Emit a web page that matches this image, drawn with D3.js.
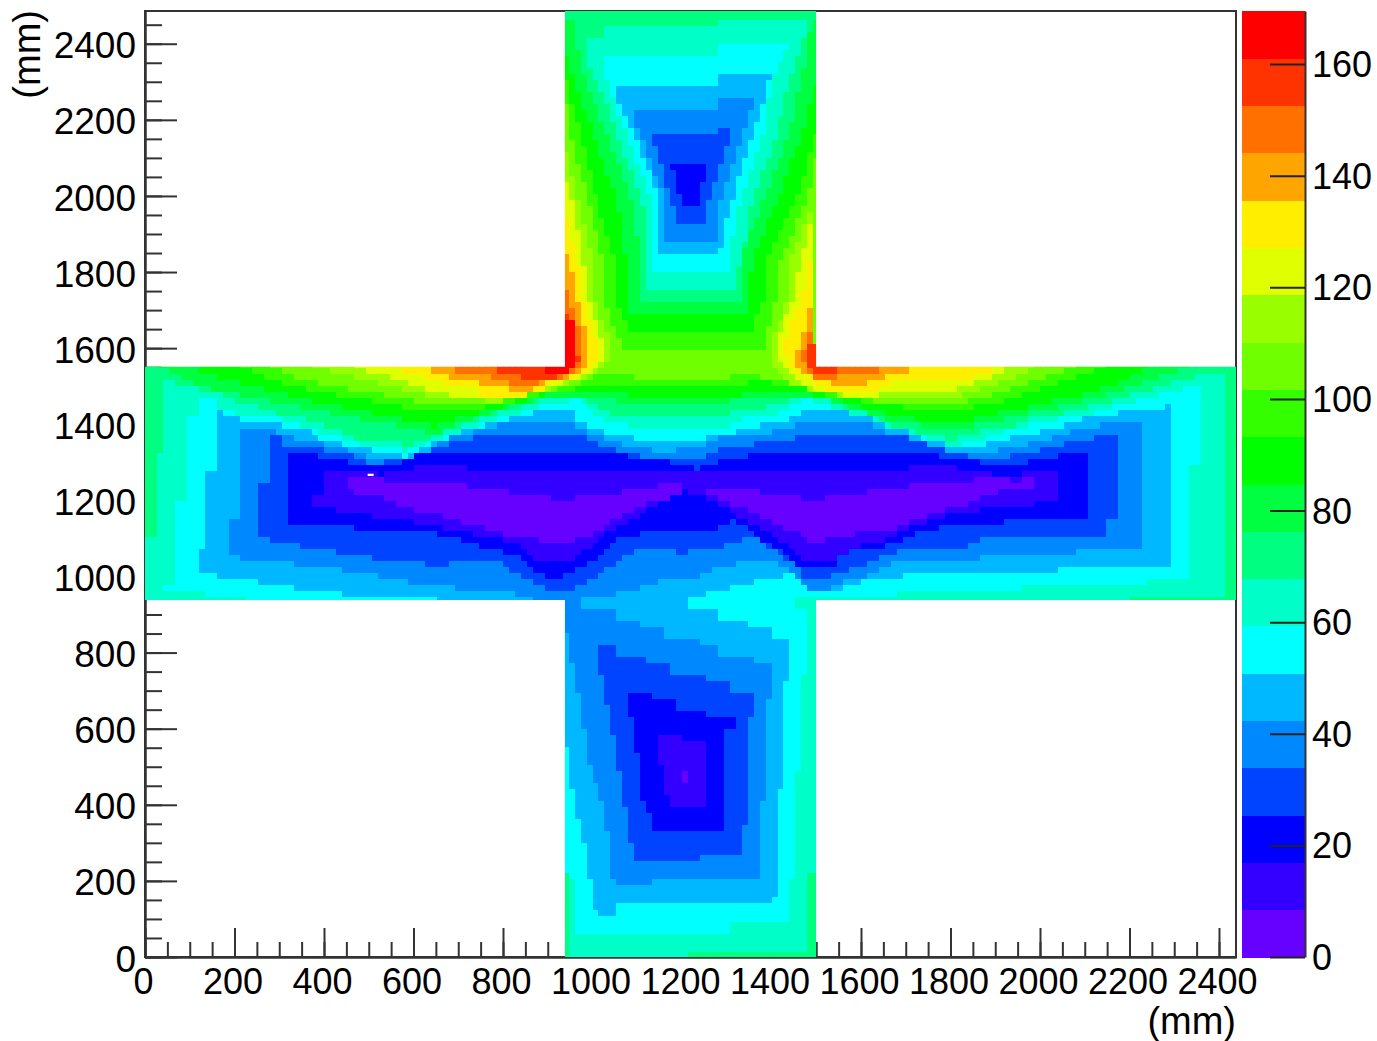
<!DOCTYPE html>
<meta charset="utf-8">
<title>Cross map</title>
<script src="https://d3js.org/d3.v7.min.js"></script>
<style>
  body { margin: 0; background: #fff; }
  text { font-family: "Liberation Sans", Arial, sans-serif; fill: #000; }
</style>
<div id="my_dataviz"></div>
<script>
  // colour levels, bottom to top of the palette
  const levelColors = ["#6600ff", "#3300ff", "#0000ff", "#0044ff", "#0088ff", "#00b8ff", "#00ffff", "#00ffc8",
    "#00ff80", "#00ff40", "#00ff00", "#33ff00", "#70ff00", "#99ff00", "#e0ff00", "#ffee00",
    "#ffa500", "#ff7000", "#ff3300", "#ff0000"];
  const zMax = 169.5;
  const zTicks = [0, 20, 40, 60, 80, 100, 120, 140, 160];
  const xTicks = d3.range(0, 2401, 200);
  const yTicks = d3.range(0, 2401, 200);
  const crossArmX = [943, 1507];
  const crossArmY = [938, 1551];
  const baseLevel = 12;
  const noDataCells = [[500, 1270]];

  // regions (mm): value >= level around the two inner corners
  const cornerRegions = [
    [13, [[943,2121],[972,1990],[1006,1832],[1011,1727],[1044,1622],[1040,1569],[1029,1543],[943,1503],[921,1495],[865,1469],[797,1459],[651,1469],[377,1551],[377,1569],[943,1569]]],
    [13, [[1507,2003],[1448,1832],[1442,1727],[1408,1622],[1404,1569],[1415,1543],[1444,1511],[1482,1482],[1520,1469],[1606,1459],[1707,1469],[1808,1469],[1920,1509],[2003,1551],[2003,1569],[1507,1569]]],
    [14, [[943,2042],[959,1990],[984,1832],[995,1727],[1029,1622],[1029,1569],[1015,1543],[943,1509],[921,1503],[865,1474],[797,1469],[730,1464],[651,1485],[472,1551],[472,1569],[943,1569]]],
    [14, [[1507,1976],[1471,1832],[1455,1727],[1419,1622],[1419,1569],[1437,1548],[1464,1522],[1498,1490],[1527,1482],[1606,1472],[1707,1485],[1808,1485],[1886,1517],[1920,1535],[1931,1551],[1931,1569],[1507,1569]]],
    [15, [[943,1950],[970,1832],[984,1727],[1015,1622],[1015,1569],[999,1543],[943,1514],[921,1511],[887,1490],[865,1477],[752,1477],[752,1498],[680,1498],[651,1517],[543,1551],[543,1569],[943,1569]]],
    [15, [[1507,1911],[1493,1832],[1475,1727],[1437,1622],[1442,1569],[1455,1548],[1478,1530],[1505,1503],[1554,1485],[1651,1485],[1651,1498],[1680,1498],[1680,1517],[1859,1517],[1859,1535],[1904,1535],[1904,1569],[1507,1569]]],
    [16, [[943,1858],[954,1832],[970,1727],[995,1622],[995,1569],[984,1543],[943,1519],[921,1517],[887,1501],[865,1490],[824,1485],[802,1501],[752,1501],[752,1517],[680,1517],[680,1535],[640,1535],[636,1569],[943,1569]]],
    [16, [[1507,1793],[1498,1727],[1475,1622],[1455,1569],[1475,1538],[1500,1522],[1554,1503],[1621,1503],[1621,1517],[1666,1517],[1666,1535],[1718,1535],[1718,1569],[1507,1569]]],
    [17, [[943,1753],[954,1727],[981,1622],[984,1569],[970,1543],[943,1524],[898,1519],[871,1503],[824,1503],[824,1517],[775,1517],[775,1535],[703,1535],[703,1569],[943,1569]]],
    [17, [[1507,1714],[1489,1622],[1475,1569],[1489,1538],[1509,1517],[1554,1517],[1554,1535],[1646,1535],[1646,1569],[1507,1569]]],
    [18, [[943,1700],[966,1648],[972,1569],[959,1543],[943,1530],[921,1522],[847,1519],[847,1535],[797,1535],[797,1569],[943,1569]]],
    [18, [[1489,1608],[1489,1548],[1507,1535],[1550,1535],[1550,1569],[1507,1608]]],
    [19, [[943,1682],[959,1682],[959,1643],[968,1643],[968,1551],[950,1538],[894,1538],[894,1569],[943,1569]]]
  ];

  // value <= level, upper arm
  const upperArm = [
    [11, [[932,2520],[932,2279],[943,2252],[954,2166],[995,1990],[1029,1832],[1029,1727],[1067,1622],[1067,1595],[1390,1595],[1390,1622],[1415,1727],[1426,1832],[1489,1990],[1507,2095],[1516,2121],[1516,2520]]],
    [10, [[932,2520],[932,2331],[943,2318],[977,2166],[1015,1990],[1055,1832],[1055,1727],[1082,1674],[1082,1643],[1365,1643],[1365,1674],[1388,1727],[1392,1832],[1464,1990],[1507,2166],[1516,2200],[1516,2520]]],
    [9, [[932,2520],[932,2397],[943,2371],[977,2252],[1006,2166],[1060,1990],[1082,1832],[1082,1727],[1096,1687],[1352,1687],[1363,1832],[1419,1990],[1478,2166],[1507,2292],[1516,2305],[1516,2520]]],
    [8, [[932,2520],[932,2468],[959,2463],[984,2318],[1038,2166],[1094,1990],[1112,1832],[1112,1719],[1343,1719],[1336,1832],[1388,1990],[1448,2166],[1484,2358],[1498,2463],[1516,2463],[1516,2520]]],
    [7, [[1029,2442],[1029,2415],[984,2415],[999,2331],[1029,2271],[1060,2166],[1118,1990],[1123,1884],[1127,1761],[1320,1761],[1347,1884],[1363,1990],[1419,2166],[1448,2305],[1475,2394],[1489,2463],[1291,2463],[1291,2442]]],
    [6, [[1029,2368],[1033,2323],[1082,2166],[1139,1990],[1139,1808],[1307,1808],[1318,1884],[1336,1990],[1388,2166],[1410,2323],[1448,2394],[1291,2394],[1291,2368]]],
    [5, [[1053,2297],[1067,2231],[1098,2166],[1157,1990],[1154,1853],[1291,1853],[1303,1924],[1318,1990],[1363,2166],[1388,2252],[1406,2321],[1291,2321],[1291,2297]]],
    [4, [[1094,2226],[1112,2166],[1168,1990],[1166,1877],[1280,1877],[1291,1990],[1341,2166],[1365,2252],[1280,2252],[1280,2226]]],
    [3, [[1139,2158],[1183,1990],[1195,1921],[1253,1921],[1264,1990],[1320,2179],[1280,2179],[1280,2158]]],
    [2, [[1179,2087],[1264,2087],[1253,2042],[1240,1971],[1206,1971],[1195,2042]]]
  ];

  // value <= level, horizontal arm (levels 8 to 4 also run into the lower arm)
  const middleArm = [
    [11, [[281,1569],[281,1551],[348,1517],[651,1451],[797,1459],[910,1490],[948,1498],[977,1509],[1022,1535],[1096,1535],[1096,1517],[1318,1517],[1318,1532],[1381,1532],[1381,1517],[1437,1522],[1460,1503],[1482,1495],[1505,1485],[1550,1477],[1651,1459],[1808,1446],[1920,1485],[2095,1551],[2095,1569],[2600,1569],[2600,886],[-100,886],[-100,1569]]],
    [10, [[209,1569],[209,1551],[348,1495],[651,1430],[797,1451],[910,1485],[948,1490],[984,1495],[1015,1509],[1089,1498],[1318,1498],[1381,1517],[1437,1503],[1478,1495],[1509,1482],[1561,1472],[1662,1451],[1808,1430],[1920,1459],[2160,1551],[2160,1569],[2600,1569],[2600,886],[-100,886],[-100,1569]]],
    [9, [[117,1569],[117,1551],[124,1538],[348,1469],[651,1398],[797,1443],[910,1480],[954,1485],[1022,1485],[1127,1472],[1336,1472],[1336,1485],[1437,1490],[1464,1485],[1500,1477],[1554,1464],[1651,1432],[1808,1398],[1920,1430],[2145,1490],[2257,1551],[2257,1569],[2600,1569],[2600,886],[-100,886],[-100,1569]]],
    [8, [[22,1569],[22,1551],[67,1535],[124,1498],[348,1446],[651,1377],[797,1438],[910,1474],[954,1477],[1022,1469],[1082,1456],[1318,1451],[1318,1469],[1426,1469],[1464,1477],[1500,1469],[1554,1456],[1651,1417],[1808,1385],[1920,1411],[2145,1472],[2351,1551],[2351,1569],[2600,1569],[2600,886],[1516,886],[1516,-10],[932,-10],[932,886],[-100,886],[-100,1569]]],
    [7, [[-11,1104],[22,1104],[22,1333],[45,1333],[45,1517],[67,1517],[67,1503],[117,1498],[117,1485],[164,1485],[186,1469],[236,1451],[281,1438],[303,1425],[355,1417],[400,1398],[445,1380],[472,1367],[543,1359],[588,1346],[611,1359],[636,1364],[658,1377],[703,1393],[730,1406],[779,1425],[824,1438],[871,1456],[916,1469],[970,1472],[1015,1451],[1029,1438],[1082,1417],[1307,1417],[1307,1430],[1352,1438],[1437,1456],[1464,1469],[1489,1472],[1523,1469],[1554,1451],[1599,1438],[1644,1417],[1680,1398],[1718,1385],[1763,1377],[1808,1364],[1857,1377],[1904,1390],[1949,1398],[1994,1417],[2071,1432],[2140,1451],[2190,1469],[2239,1485],[2286,1498],[2329,1517],[2378,1532],[2423,1532],[2423,946],[2212,946],[2212,912],[1516,912],[1516,229],[1489,229],[1489,18],[1224,18],[1224,-10],[954,-10],[954,229],[932,229],[932,912],[-11,912]]],
    [6, [[67,1196],[94,1196],[94,1425],[117,1425],[117,1469],[166,1469],[166,1438],[191,1432],[236,1425],[303,1417],[355,1393],[400,1377],[445,1364],[476,1351],[543,1346],[588,1333],[611,1346],[636,1351],[658,1364],[730,1393],[779,1411],[824,1425],[871,1438],[894,1451],[948,1456],[970,1469],[999,1443],[1022,1417],[1082,1398],[1157,1385],[1307,1393],[1307,1411],[1392,1419],[1437,1438],[1464,1456],[1478,1469],[1523,1451],[1554,1438],[1599,1425],[1651,1398],[1680,1385],[1718,1380],[1763,1364],[1812,1346],[1880,1364],[1904,1372],[1949,1390],[2026,1411],[2066,1417],[2095,1425],[2140,1432],[2190,1451],[2239,1469],[2306,1485],[2351,1498],[2378,1498],[2378,1301],[2351,1301],[2351,999],[2257,999],[2257,983],[1972,983],[1972,965],[1689,965],[1689,944],[1464,944],[1464,912],[1489,912],[1489,749],[1475,749],[1475,491],[1464,491],[1464,229],[1453,208],[1453,92],[1307,92],[1307,66],[970,66],[970,142],[954,229],[932,229],[932,912],[231,912],[231,946],[139,946],[139,967],[45,967],[45,983],[67,983]]],
    [5, [[166,1438],[186,1425],[231,1411],[303,1411],[308,1393],[353,1393],[397,1364],[445,1351],[472,1338],[543,1333],[588,1314],[611,1333],[636,1346],[680,1364],[703,1380],[752,1393],[797,1406],[847,1425],[894,1438],[954,1438],[970,1411],[993,1393],[1044,1380],[1112,1364],[1264,1364],[1264,1380],[1318,1380],[1352,1393],[1437,1411],[1489,1438],[1554,1438],[1599,1425],[1644,1411],[1673,1393],[1718,1380],[1747,1364],[1808,1346],[1880,1346],[1927,1364],[2003,1380],[2048,1393],[2095,1411],[2163,1425],[2212,1438],[2284,1438],[2286,1456],[2306,1456],[2306,1030],[2048,1030],[2048,1012],[1763,1012],[1621,991],[1577,983],[1554,965],[1489,965],[1464,996],[1448,1009],[1404,996],[1352,983],[1280,965],[1224,946],[1224,917],[1291,917],[1291,891],[1352,891],[1352,867],[1404,867],[1404,841],[1448,841],[1448,723],[1437,723],[1437,447],[1419,444],[1419,160],[1404,160],[1404,142],[1053,142],[1053,116],[1015,116],[997,210],[984,302],[970,368],[954,465],[943,562],[932,562],[932,925],[662,925],[662,944],[566,944],[472,951],[377,965],[281,983],[191,999],[117,1012],[117,1075],[139,1075],[139,1285],[166,1288]]],
    [4, [[211,1380],[231,1396],[281,1396],[308,1372],[355,1364],[400,1351],[445,1338],[494,1319],[566,1301],[611,1314],[640,1333],[662,1351],[680,1364],[730,1380],[775,1393],[847,1411],[954,1411],[970,1393],[999,1380],[1044,1364],[1089,1346],[1150,1333],[1195,1317],[1201,1346],[1264,1346],[1264,1364],[1352,1377],[1404,1380],[1448,1393],[1489,1411],[1621,1411],[1644,1393],[1673,1380],[1718,1364],[1763,1346],[1808,1333],[1837,1317],[1857,1333],[1904,1333],[1972,1346],[2026,1364],[2071,1380],[2140,1396],[2190,1411],[2234,1411],[2234,1078],[2095,1078],[2095,1062],[1880,1062],[1880,1049],[1785,1049],[1696,1043],[1651,1025],[1621,999],[1577,991],[1554,983],[1523,965],[1489,965],[1464,999],[1442,1025],[1404,1049],[1352,1043],[1291,1025],[1240,999],[1168,996],[1112,970],[1044,951],[984,946],[984,912],[1055,912],[1055,888],[1112,888],[1112,865],[1168,865],[1168,841],[1240,841],[1240,820],[1291,820],[1291,796],[1365,796],[1365,770],[1406,770],[1406,675],[1390,675],[1390,405],[1377,399],[1377,210],[1141,210],[1141,184],[1055,184],[1040,255],[1040,326],[1029,405],[1015,447],[995,513],[984,605],[970,702],[954,799],[943,865],[932,886],[932,925],[871,925],[871,944],[802,965],[703,965],[703,983],[611,983],[566,996],[472,1012],[422,1025],[330,1028],[330,1043],[236,1043],[186,1062],[189,1149],[211,1149]]],
    [3, [[258,1246],[281,1246],[281,1367],[303,1367],[308,1351],[375,1346],[400,1333],[472,1319],[499,1301],[566,1306],[588,1314],[680,1351],[730,1364],[775,1380],[948,1380],[995,1364],[1029,1346],[1067,1333],[1112,1317],[1246,1314],[1280,1333],[1336,1346],[1448,1364],[1500,1380],[1673,1380],[1718,1364],[1763,1346],[1808,1333],[1857,1314],[1927,1314],[2003,1333],[2048,1346],[2118,1364],[2163,1380],[2190,1380],[2190,1149],[2163,1149],[2163,1104],[1880,1104],[1880,1091],[1808,1070],[1696,1070],[1651,1049],[1606,1025],[1577,1017],[1554,1009],[1523,996],[1478,999],[1471,1025],[1433,1049],[1404,1078],[1365,1104],[1298,1083],[1240,1070],[1201,1064],[1179,1078],[1112,1078],[1071,1051],[1029,1012],[993,991],[954,965],[921,965],[871,983],[824,1017],[802,1043],[703,1043],[662,1030],[566,1043],[467,1057],[377,1078],[281,1091],[281,1101],[258,1104]]],
    [2, [[326,1333],[375,1327],[400,1314],[472,1301],[543,1288],[566,1301],[588,1314],[662,1333],[1029,1333],[1112,1314],[1195,1301],[1240,1285],[1251,1298],[1336,1314],[1419,1333],[1763,1333],[1785,1317],[1837,1317],[1882,1301],[1972,1301],[2026,1314],[2118,1333],[2118,1149],[1927,1149],[1927,1135],[1808,1135],[1740,1117],[1696,1096],[1651,1078],[1577,1070],[1554,1043],[1554,1025],[1478,1025],[1448,1051],[1419,1078],[1381,1096],[1352,1130],[1314,1149],[1298,1135],[1246,1117],[1179,1130],[1118,1117],[1073,1104],[1038,1078],[1006,1043],[961,1017],[921,996],[871,1012],[849,1049],[797,1070],[752,1083],[703,1101],[640,1120],[521,1122],[422,1135],[326,1135]]],
    [1, [[377,1209],[400,1209],[400,1285],[478,1280],[539,1267],[543,1285],[588,1285],[685,1301],[730,1285],[1157,1285],[1157,1277],[1240,1272],[1251,1285],[1718,1285],[1718,1298],[1763,1298],[1808,1288],[1904,1285],[1904,1267],[1949,1267],[2003,1285],[2046,1285],[2046,1196],[2003,1196],[2003,1183],[1882,1183],[1882,1175],[1830,1175],[1763,1149],[1718,1130],[1673,1104],[1599,1078],[1554,1051],[1523,1036],[1471,1049],[1448,1078],[1404,1114],[1359,1141],[1314,1175],[1264,1209],[1235,1222],[1208,1227],[1179,1206],[1127,1175],[1089,1149],[1044,1122],[995,1078],[961,1049],[921,1036],[871,1049],[849,1078],[797,1101],[703,1122],[640,1135],[566,1154],[467,1167],[415,1180],[377,1180]]],
    [0, [[449,1259],[499,1262],[588,1246],[730,1246],[730,1227],[824,1227],[824,1212],[916,1212],[916,1193],[970,1193],[970,1212],[1067,1212],[1067,1227],[1157,1227],[1157,1243],[1206,1243],[1206,1227],[1179,1209],[1127,1193],[1089,1167],[1044,1149],[1015,1117],[977,1109],[954,1093],[921,1093],[849,1104],[797,1117],[730,1141],[685,1156],[640,1167],[588,1183],[512,1220],[449,1227]]],
    [0, [[1240,1243],[1291,1227],[1377,1227],[1377,1212],[1478,1212],[1478,1193],[1523,1193],[1523,1212],[1621,1212],[1621,1227],[1718,1227],[1718,1243],[1857,1243],[1857,1259],[1949,1259],[1949,1243],[1976,1243],[1976,1259],[2003,1259],[2003,1227],[1927,1227],[1886,1212],[1857,1196],[1808,1183],[1763,1167],[1718,1149],[1673,1122],[1599,1114],[1523,1096],[1489,1096],[1464,1117],[1399,1149],[1352,1175],[1314,1193],[1264,1220]]]
  ];

  // value <= level, lower arm basin
  const lowerArm = [
    [3, [[1015,820],[1015,749],[1029,749],[1029,657],[1040,657],[1040,589],[1053,589],[1053,513],[1069,491],[1069,399],[1082,399],[1082,302],[1096,302],[1096,255],[1240,255],[1240,276],[1336,276],[1336,347],[1350,352],[1350,628],[1365,628],[1365,702],[1307,702],[1307,723],[1253,723],[1253,749],[1181,749],[1181,770],[1127,770],[1127,796],[1053,796],[1053,820]]],
    [2, [[1082,702],[1082,628],[1096,628],[1096,539],[1112,539],[1112,418],[1127,418],[1127,373],[1141,373],[1141,326],[1305,326],[1305,607],[1320,607],[1320,628],[1253,628],[1253,654],[1195,654],[1195,675],[1141,675],[1141,702]]],
    [1, [[1154,586],[1208,586],[1208,562],[1264,562],[1264,399],[1181,399],[1181,420],[1168,420],[1168,513],[1154,513]]],
    [0, [[1208,491],[1224,491],[1224,465],[1208,465]]]
  ];

  const width = 1377, height = 1041;
  const plot = { left: 145, right: 1236, top: 11, bottom: 957 };
  const bar = { left: 1242, right: 1305 };

  const svg = d3.select("#my_dataviz")
    .append("svg")
    .attr("width", width)
    .attr("height", height)
    .style("display", "block");

  // the regions were traced on a 2450 span, the printed ticks run a little wider
  const xMap = d3.scaleLinear().domain([0, 2450]).range([plot.left, plot.right]);
  const xAxisScale = d3.scaleLinear().domain([0, 2438]).range([plot.left, plot.right]);
  const y = d3.scaleLinear().domain([0, 2486]).range([plot.bottom, plot.top]);
  const z = d3.scaleLinear().domain([0, zMax]).range([plot.bottom, plot.top]);
  const color = d3.scaleQuantize().domain([0, zMax]).range(levelColors);
  const zStep = zMax / levelColors.length;

  function styleAxis(g, size) {
    g.selectAll("path, line").attr("stroke", "#333").attr("stroke-width", 2);
    g.selectAll("text").style("font-size", (size || 36) + "px").attr("fill", "#000");
  }

  // frame and axes go first, the map is painted over them
  svg.append("rect")
    .attr("x", plot.left).attr("y", plot.top)
    .attr("width", plot.right - plot.left).attr("height", plot.bottom - plot.top)
    .attr("fill", "none").attr("stroke", "#333").attr("stroke-width", 2);

  svg.append("g")
    .attr("transform", `translate(0,${plot.bottom})`)
    .call(d3.axisBottom(xAxisScale).tickValues(d3.range(0, 2401, 50)).tickSize(-15).tickFormat("").tickSizeOuter(0))
    .call(styleAxis);
  svg.append("g")
    .attr("transform", `translate(0,${plot.bottom})`)
    .call(d3.axisBottom(xAxisScale).tickValues(xTicks).tickSize(-29).tickPadding(11).tickSizeOuter(0).tickFormat(d3.format("d")))
    .call(styleAxis)
    .call(g => g.selectAll("text").attr("dx", -2));
  svg.append("g")
    .attr("transform", `translate(${plot.left},0)`)
    .call(d3.axisLeft(y).tickValues(d3.range(0, 2451, 50)).tickSize(-17).tickFormat("").tickSizeOuter(0))
    .call(styleAxis);
  svg.append("g")
    .attr("transform", `translate(${plot.left},0)`)
    .call(d3.axisLeft(y).tickValues(yTicks).tickSize(-32).tickPadding(9).tickSizeOuter(0).tickFormat(d3.format("d")))
    .call(g => styleAxis(g, 37))
    .call(g => g.selectAll("text").attr("dy", "0.38em"));

  // lowest basins first, then the corner regions from the top level down
  const layers = [...upperArm, ...middleArm, ...lowerArm].sort((a, b) => a[0] - b[0])
    .concat([...cornerRegions].sort((a, b) => b[0] - a[0]));

  function levelAt(px, py) {
    const hit = layers.find(l => d3.polygonContains(l[1], [px, py]));
    return hit ? hit[0] : baseLevel;
  }

  const xBin = 13.4, yBin = 15.8;
  const cells = [];
  d3.range(0, 2450, xBin).forEach(cx => {
    d3.range(0, 2486, yBin).forEach(cy => {
      const inH = cy + yBin > crossArmY[0] && cy < crossArmY[1];
      const inV = cx + xBin > crossArmX[0] && cx < crossArmX[1];
      if (inH || inV) {
        cells.push({ cx, cy, value: (levelAt(cx + xBin / 2, cy + yBin / 2) + 0.5) * zStep });
      }
    });
  });

  const clip = svg.append("clipPath").attr("id", "cross");
  clip.append("rect")
    .attr("x", xMap(0)).attr("y", y(crossArmY[1]))
    .attr("width", xMap(2450) - xMap(0)).attr("height", y(crossArmY[0]) - y(crossArmY[1]));
  clip.append("rect")
    .attr("x", xMap(crossArmX[0])).attr("y", y(2486))
    .attr("width", xMap(crossArmX[1]) - xMap(crossArmX[0])).attr("height", y(0) - y(2486));

  svg.append("g")
    .attr("clip-path", "url(#cross)")
    .attr("shape-rendering", "crispEdges")
    .selectAll("rect")
    .data(cells)
    .join("rect")
    .attr("x", d => xMap(d.cx))
    .attr("y", d => y(d.cy + yBin))
    .attr("width", xMap(xBin) - xMap(0) + 0.6)
    .attr("height", y(0) - y(yBin) + 0.6)
    .attr("fill", d => color(d.value));

  svg.selectAll(".no-data")
    .data(noDataCells)
    .join("rect")
    .attr("class", "no-data")
    .attr("x", d => xMap(d[0]))
    .attr("y", d => y(d[1]))
    .attr("width", xMap(xBin) - xMap(0))
    .attr("height", y(0) - y(6))
    .attr("fill", "#fff");

  // colour bar
  svg.append("g")
    .attr("shape-rendering", "crispEdges")
    .selectAll("rect")
    .data(levelColors)
    .join("rect")
    .attr("x", bar.left)
    .attr("width", bar.right - bar.left)
    .attr("y", (d, i) => z((i + 1) * zStep))
    .attr("height", z(0) - z(zStep) + 0.5)
    .attr("fill", d => d);

  svg.append("g")
    .attr("transform", `translate(${bar.right},0)`)
    .call(d3.axisRight(z).tickValues(zTicks).tickSize(-35).tickPadding(7).tickSizeOuter(0).tickFormat(d3.format("d")))
    .call(styleAxis)
    .call(g => g.selectAll("line").attr("stroke", "#222"))
    .call(g => g.selectAll("text").attr("dy", "0.35em"));

  svg.append("text")
    .attr("text-anchor", "end")
    .attr("x", plot.right)
    .attr("y", 1034)
    .style("font-size", "38px")
    .text("(mm)");

  svg.append("text")
    .attr("text-anchor", "end")
    .attr("transform", "rotate(-90)")
    .attr("x", -plot.top + 1)
    .attr("y", 40)
    .style("font-size", "38px")
    .text("(mm)");
</script>
